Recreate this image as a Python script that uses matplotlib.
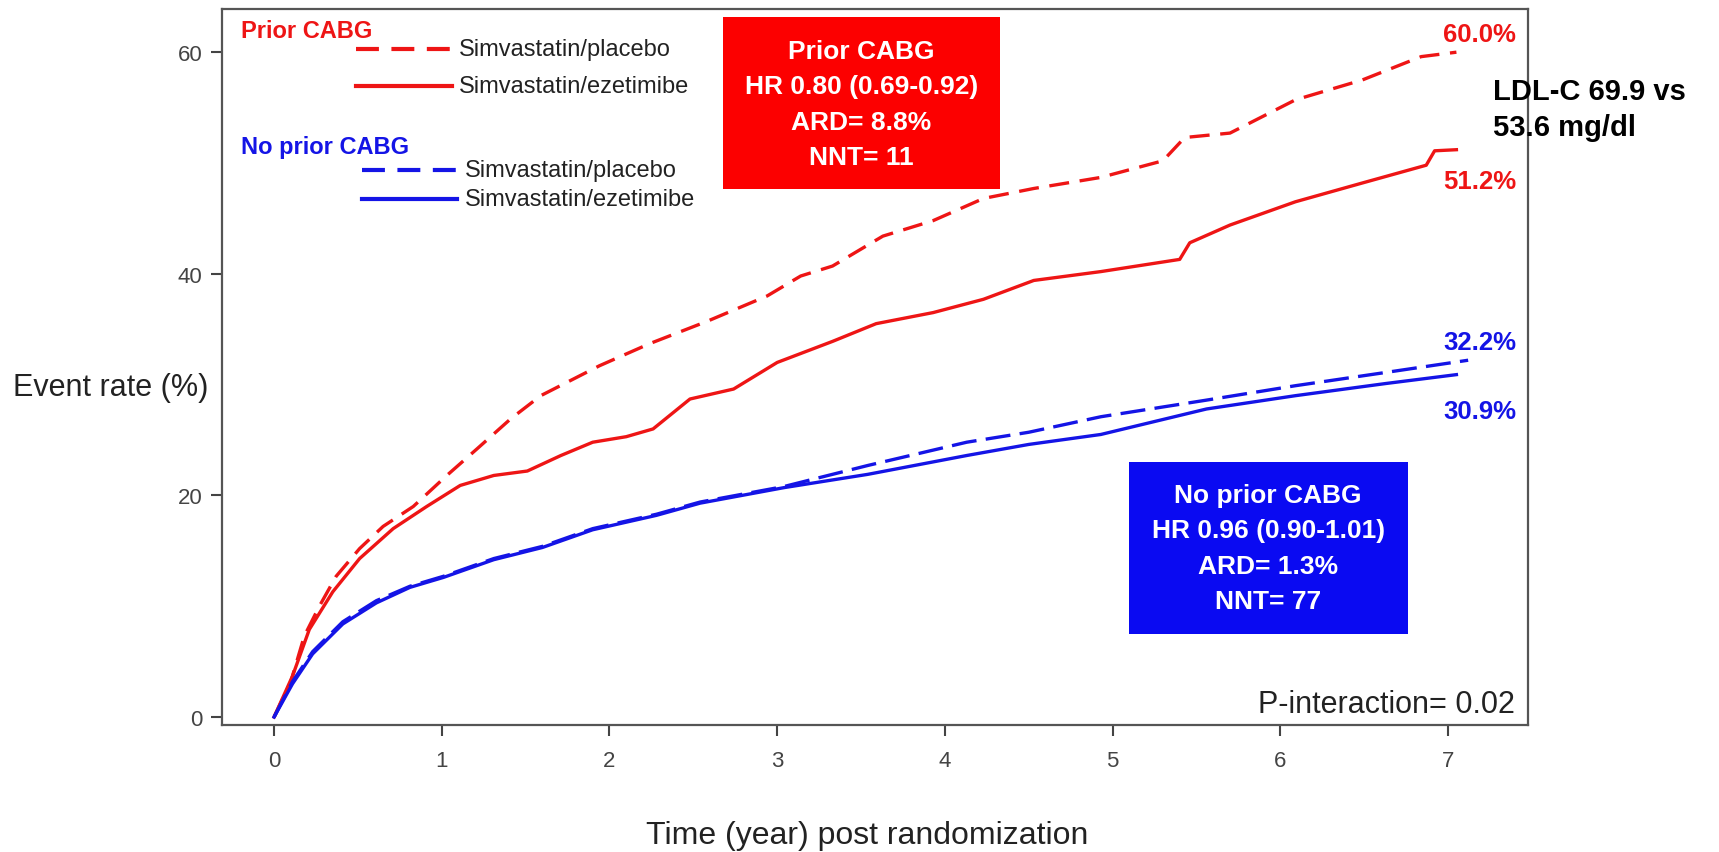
import matplotlib

matplotlib.use("Agg")

import matplotlib.pyplot as plt
from matplotlib.patches import Rectangle

plt.rcParams["font.family"] = ["Liberation Sans", "DejaVu Sans"]

# Kaplan-Meier style event rates (%)
prior_placebo_t = [0, 0.1, 0.18, 0.27, 0.37, 0.51, 0.65, 0.83, 1.03, 1.21, 1.41, 1.59, 1.94,
                   2.24, 2.58, 2.94, 3.14, 3.33, 3.63, 3.93, 4.23, 4.53, 4.93, 5.30, 5.43,
                   5.70, 6.09, 6.49, 6.84, 7.05]
prior_placebo_v = [0, 3.2, 7.3, 10.0, 12.7, 15.2, 17.2, 19.0, 21.8, 24.2, 26.9, 29.0, 31.7,
                   33.7, 35.7, 38.0, 39.8, 40.7, 43.4, 44.8, 46.8, 47.7, 48.7, 50.2, 52.3,
                   52.7, 55.7, 57.5, 59.6, 60.0]

prior_ezet_t = [0, 0.11, 0.21, 0.35, 0.51, 0.71, 0.91, 1.11, 1.31, 1.51, 1.71, 1.90, 2.10,
                2.26, 2.48, 2.74, 3.0, 3.33, 3.59, 3.93, 4.23, 4.53, 4.93, 5.40, 5.46, 5.70,
                6.09, 6.49, 6.87, 6.92, 7.05]
prior_ezet_v = [0, 3.7, 7.9, 11.3, 14.3, 17.0, 19.0, 20.9, 21.8, 22.2, 23.6, 24.8, 25.3,
                26.0, 28.7, 29.6, 32.0, 33.9, 35.5, 36.5, 37.7, 39.4, 40.2, 41.3, 42.8, 44.4,
                46.5, 48.2, 49.8, 51.1, 51.2]

noprior_placebo_t = [0, 0.11, 0.23, 0.41, 0.61, 0.81, 1.01, 1.31, 1.60, 1.90, 2.28, 2.54,
                     3.04, 3.54, 4.13, 4.50, 4.93, 5.56, 6.09, 6.63, 7.12]
noprior_placebo_v = [0, 3.2, 5.9, 8.6, 10.5, 11.8, 12.7, 14.3, 15.4, 17.0, 18.3, 19.4,
                     20.8, 22.7, 24.8, 25.7, 27.1, 28.6, 29.9, 31.1, 32.2]

noprior_ezet_t = [0, 0.11, 0.23, 0.41, 0.61, 0.81, 1.01, 1.31, 1.60, 1.90, 2.28, 2.54,
                  3.04, 3.54, 4.13, 4.50, 4.93, 5.56, 6.09, 6.63, 7.05]
noprior_ezet_v = [0, 3.0, 5.7, 8.4, 10.3, 11.7, 12.6, 14.2, 15.3, 16.9, 18.2, 19.3,
                  20.7, 21.9, 23.6, 24.6, 25.5, 27.8, 29.0, 30.1, 30.9]

x_ticks = [0, 1, 2, 3, 4, 5, 6, 7]
y_ticks = [0, 20, 40, 60]

end_labels = ["60.0%", "51.2%", "32.2%", "30.9%"]
prior_box = "Prior CABG\nHR 0.80 (0.69-0.92)\nARD= 8.8%\nNNT= 11"
noprior_box = "No prior CABG\nHR 0.96 (0.90-1.01)\nARD= 1.3%\nNNT= 77"

RED = "#ee1515"
BLUE = "#1414e6"
BOX_RED = "#fc0000"
BOX_BLUE = "#0a0af2"

fig = plt.figure(figsize=(17.19, 8.53), dpi=100)
ax = fig.add_axes([0.1292, 0.1489, 0.7598, 0.8394])

ax.plot(prior_placebo_t, prior_placebo_v, color=RED, lw=2.4, ls=(0, (6, 3.2)))
ax.plot(prior_ezet_t, prior_ezet_v, color=RED, lw=2.4)
ax.plot(noprior_placebo_t, noprior_placebo_v, color=BLUE, lw=2.4, ls=(0, (7.5, 2.8)))
ax.plot(noprior_ezet_t, noprior_ezet_v, color=BLUE, lw=2.4)

ax.set_xlim(-0.31, 7.478)
ax.set_ylim(-0.72, 63.9)
ax.set_xticks(x_ticks)
ax.set_yticks(y_ticks)
ax.tick_params(axis="both", length=8, width=1.5, colors="#444444", labelsize=16)
ax.tick_params(axis="x", pad=10)
ax.tick_params(axis="y", pad=6)
for s in ax.spines.values():
    s.set_color("#555555")
    s.set_linewidth(1.6)

# legend drawn by hand (two groups with their own headings)
tr = ax.transAxes
ax.text(0.0145, 0.9693, "Prior CABG", transform=tr, color=RED, fontsize=17,
        fontweight="bold", va="center", ha="left")
ax.plot([0.1026, 0.1761], [0.9441, 0.9441], transform=tr, color=RED, lw=3,
        ls=(0, (5.5, 3)))
ax.text(0.1815, 0.9441, "Simvastatin/placebo", transform=tr, color="#222222",
        fontsize=17, va="center", ha="left")
ax.plot([0.1026, 0.1761], [0.8925, 0.8925], transform=tr, color=RED, lw=3)
ax.text(0.1815, 0.8925, "Simvastatin/ezetimibe", transform=tr, color="#222222",
        fontsize=17, va="center", ha="left")

ax.text(0.0145, 0.8073, "No prior CABG", transform=tr, color=BLUE, fontsize=17,
        fontweight="bold", va="center", ha="left")
ax.plot([0.1072, 0.1800], [0.7751, 0.7751], transform=tr, color=BLUE, lw=3,
        ls=(0, (5.5, 3)))
ax.text(0.1861, 0.7751, "Simvastatin/placebo", transform=tr, color="#222222",
        fontsize=17, va="center", ha="left")
ax.plot([0.1072, 0.1800], [0.7346, 0.7346], transform=tr, color=BLUE, lw=3)
ax.text(0.1861, 0.7346, "Simvastatin/ezetimibe", transform=tr, color="#222222",
        fontsize=17, va="center", ha="left")

# result boxes
ax.add_patch(Rectangle((0.3836, 0.7486), 0.2121, 0.2402, transform=tr,
                       facecolor=BOX_RED, edgecolor="none", zorder=3))
ax.text(0.4893, 0.8673, prior_box, transform=tr, color="white", fontsize=19,
        fontweight="bold", ha="center", va="center", linespacing=1.6, zorder=4)
ax.add_patch(Rectangle((0.6945, 0.1271), 0.2136, 0.2402, transform=tr,
                       facecolor=BOX_BLUE, edgecolor="none", zorder=3))
ax.text(0.8009, 0.2472, noprior_box, transform=tr, color="white", fontsize=19,
        fontweight="bold", ha="center", va="center", linespacing=1.6, zorder=4)

# end-of-curve percentages
label_y = [0.9651, 0.7598, 0.5349, 0.4385]
label_c = [RED, RED, BLUE, BLUE]
for txt, yy, cc in zip(end_labels, label_y, label_c):
    ax.text(0.9908, yy, txt, transform=tr, color=cc, fontsize=18.5,
            fontweight="bold", ha="right", va="center")

ax.text(0.990, 0.0293, "P-interaction= 0.02", transform=tr, color="#222222",
        fontsize=22, ha="right", va="center")

fig.text(0.0076, 0.545, "Event rate (%)", fontsize=22, color="#222222",
         ha="left", va="center")
fig.text(0.5044, 0.0195, "Time (year) post randomization", fontsize=23,
         color="#222222", ha="center", va="center")
fig.text(0.8685, 0.871, "LDL-C 69.9 vs\n53.6 mg/dl", fontsize=21,
         fontweight="bold", color="black", ha="left", va="center", linespacing=1.37)

fig.savefig("out.png", dpi=100)
